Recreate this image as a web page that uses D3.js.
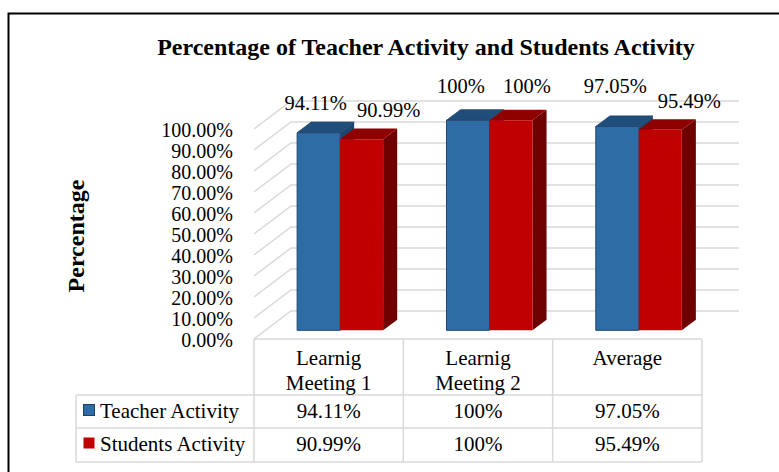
<!DOCTYPE html>
<html>
<head>
<meta charset="utf-8">
<script src="https://cdn.jsdelivr.net/npm/d3@7"></script>
<style>
  body { margin: 0; background: #fff; }
  svg { display: block; }
  text { font-family: "Liberation Serif", "Times New Roman", serif; fill: #000; }
</style>
</head>
<body>
<svg class="plot" width="779" height="472"></svg>
<script>
// chart data
var categories = ["Learnig Meeting 1", "Learnig Meeting 2", "Average"];
var seriesNames = ["Teacher Activity", "Students Activity"];
var teacherActivity = [0.9411, 1.00, 0.9705];
var studentsActivity = [0.9099, 1.00, 0.9549];
var yTicks = [0, 0.1, 0.2, 0.3, 0.4, 0.5, 0.6, 0.7, 0.8, 0.9, 1.0];

var seriesValues = [teacherActivity, studentsActivity];

var svg = d3.select(".plot");

// colours for the 3d faces: front, top, side
var faces = [
  {front: "#2e6ca5", top: "#1f4e7a", side: "#1b466f", stroke: "#24456e"},
  {front: "#c00000", top: "#8e0000", side: "#6e0000", stroke: "#b00000"}
];

// front plane of the plot and the depth vector of the 3d box
var x = d3.scaleBand().domain(categories).range([254, 702]).paddingInner(0),
    xs = d3.scaleBand().domain(seriesNames).range([0, x.bandwidth()]).paddingOuter(0.736),
    y = d3.scaleLinear().domain([0, 1]).range([339, 129]);
var depth = {dx: 37, dy: -28},
    t1 = 0.31, t2 = 0.69;   // bar front / back depth
function proj(px, py, t) { return [px + t * depth.dx, py + t * depth.dy]; }

// outer frame
svg.append("rect")
    .attr("x", 8.5).attr("y", 13.5)
    .attr("width", 820).attr("height", 500)
    .attr("fill", "none").attr("stroke", "#000").attr("stroke-width", 2);

// title
svg.append("text")
    .attr("x", 426).attr("y", 55)
    .attr("text-anchor", "middle")
    .style("font-size", "24px").style("font-weight", "bold")
    .text("Percentage of Teacher Activity and Students Activity");

// axis title
svg.append("text")
    .attr("transform", "translate(84,236) rotate(-90)")
    .attr("text-anchor", "middle")
    .style("font-size", "24px").style("font-weight", "bold")
    .text("Percentage");

// gridlines: diagonal on the side wall then flat along the back wall
var x0 = x.range()[0], x1 = x.range()[1];
svg.append("g").selectAll("path")
    .data(yTicks)
    .enter().append("path")
    .attr("d", function(v) {
      var a = proj(x0, y(v), 0), b = proj(x0, y(v), 1), c = proj(x1, y(v), 1);
      return "M" + a + "L" + b + "L" + c;
    })
    .attr("fill", "none").attr("stroke", "#d9d9d9").attr("stroke-width", 1.5);

// y axis labels
var yAxis = svg.append("g")
    .attr("transform", "translate(" + x0 + ",0)")
    .call(d3.axisLeft(y).tickValues(yTicks).tickSize(0).tickPadding(21).tickFormat(d3.format(".2%")));
yAxis.select(".domain").remove();
yAxis.selectAll("text")
    .attr("dy", "0.38em")
    .style("font-family", "'Liberation Serif', 'Times New Roman', serif")
    .style("font-size", "20px");

// 3d bars
var fmt = function(v) { return v === 1 ? "100%" : d3.format(".2%")(v); };
var labelNudge = [[[-10, -17], [20, -17]], [[-14, -22], [9, -22]], [[-9, -28], [22, -16]]];
var bars = svg.append("g");
categories.forEach(function(cat, i) {
  seriesNames.forEach(function(s, j) {
    var v = seriesValues[j][i],
        bx = x(cat) + xs(s), bw = xs.bandwidth(),
        yt = y(v), yb = y(0), c = faces[j];
    var side = [proj(bx + bw, yt, t1), proj(bx + bw, yb, t1), proj(bx + bw, yb, t2), proj(bx + bw, yt, t2)];
    var top = [proj(bx, yt, t1), proj(bx + bw, yt, t1), proj(bx + bw, yt, t2), proj(bx, yt, t2)];
    var front = [proj(bx, yt, t1), proj(bx + bw, yt, t1), proj(bx + bw, yb, t1), proj(bx, yb, t1)];
    bars.append("polygon").attr("points", side.join(" ")).attr("fill", c.side);
    bars.append("polygon").attr("points", top.join(" ")).attr("fill", c.top)
        .attr("stroke", j === 0 ? c.stroke : "none").attr("stroke-width", 0.8);
    bars.append("polygon").attr("points", front.join(" ")).attr("fill", c.front)
        .attr("stroke", j === 0 ? c.stroke : "none").attr("stroke-width", 1);

    var lp = proj(bx + bw / 2, yt, (t1 + t2) / 2), n = labelNudge[i][j];
    svg.append("text")
        .attr("x", lp[0] + n[0]).attr("y", lp[1] + n[1])
        .attr("text-anchor", "middle")
        .style("font-size", "20.5px")
        .text(fmt(v));
  });
});

// data table under the plot
var tableLeft = 76, rowTop = [339, 395, 428, 462];
var grid = svg.append("g").attr("stroke", "#d9d9d9").attr("stroke-width", 1.5);
grid.append("line").attr("x1", x0).attr("x2", x1).attr("y1", rowTop[0]).attr("y2", rowTop[0]);
[1, 2, 3].forEach(function(r) {
  grid.append("line").attr("x1", tableLeft).attr("x2", x1).attr("y1", rowTop[r]).attr("y2", rowTop[r]);
});
grid.append("line").attr("x1", tableLeft).attr("x2", tableLeft).attr("y1", rowTop[1]).attr("y2", rowTop[3]);
categories.concat([null]).forEach(function(cat) {
  var cx = cat === null ? x1 : x(cat);
  grid.append("line").attr("x1", cx).attr("x2", cx).attr("y1", rowTop[0]).attr("y2", rowTop[3]);
});

// category headers
categories.forEach(function(cat) {
  var sp = cat.indexOf(" "),
      lines = sp < 0 ? [cat] : [cat.slice(0, sp), cat.slice(sp + 1)];
  var t = svg.append("text")
      .attr("x", x(cat) + x.bandwidth() / 2).attr("y", 365)
      .attr("text-anchor", "middle")
      .style("font-size", "21px");
  lines.forEach(function(l, k) {
    t.append("tspan").attr("x", x(cat) + x.bandwidth() / 2).attr("dy", k === 0 ? 0 : 25).text(l);
  });
});

// legend keys and values
seriesNames.forEach(function(s, j) {
  var ty = rowTop[j + 1] + 23;
  svg.append("rect")
      .attr("x", 83.5).attr("y", ty - 13.5).attr("width", 11).attr("height", 11)
      .attr("fill", faces[j].front)
      .attr("stroke", j === 0 ? "#1f3f66" : "none").attr("stroke-width", 1);
  svg.append("text")
      .attr("x", 100).attr("y", ty)
      .style("font-size", "21px")
      .text(s);
  categories.forEach(function(cat, i) {
    svg.append("text")
        .attr("x", x(cat) + x.bandwidth() / 2).attr("y", ty)
        .attr("text-anchor", "middle")
        .style("font-size", "21px")
        .text(fmt(seriesValues[j][i]));
  });
});
</script>
</body>
</html>
